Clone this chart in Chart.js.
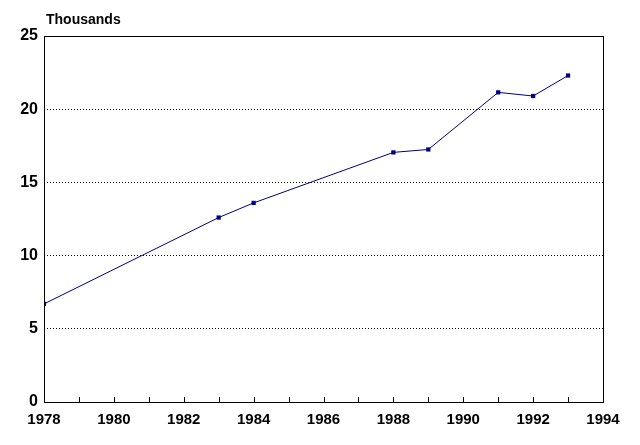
<!DOCTYPE html>
<html>
<head>
<meta charset="utf-8">
<script src="https://cdn.jsdelivr.net/npm/chart.js@4.4.1/dist/chart.umd.min.js"></script>
<style>
  html, body { margin: 0; padding: 0; background: #fff; }
  #wrap { width: 640px; height: 445px; position: relative; }
</style>
</head>
<body>
<div id="wrap"><canvas id="c"></canvas></div>
<script>
const years = [1978, 1983, 1984, 1988, 1989, 1991, 1992, 1993];
const values = [6.7, 12.6, 13.6, 17.05, 17.25, 21.15, 20.9, 22.3];
const unitLabel = 'Thousands';
const xMin = 1978, xMax = 1994;
const yMin = 0, yMax = 25;

const framePlugin = {
  id: 'frame',
  afterDraw(chart) {
    const { ctx, chartArea: a, scales } = chart;
    ctx.save();
    ctx.strokeStyle = '#000';
    ctx.lineWidth = 1;
    ctx.strokeRect(Math.round(a.left) + 0.5, Math.round(a.top) + 0.5,
      Math.round(a.right - a.left), Math.round(a.bottom - a.top));
    // inside tick marks on x axis
    const xs = scales.x;
    ctx.beginPath();
    for (let yr = xMin + 1; yr < xMax; yr++) {
      const px = Math.round(xs.getPixelForValue(yr)) + 0.5;
      ctx.moveTo(px, a.bottom);
      ctx.lineTo(px, a.bottom - 5);
    }
    ctx.stroke();
    ctx.fillStyle = '#000';
    ctx.font = 'bold 14px "Liberation Sans", Arial, sans-serif';
    ctx.textBaseline = 'middle';
    ctx.textAlign = 'left';
    ctx.fillText(unitLabel, a.left + 2, a.top - 16);
    ctx.restore();
  }
};

new Chart(document.getElementById('c'), {
  type: 'line',
  data: {
    datasets: [{
      data: years.map((y, i) => ({ x: y, y: values[i] })),
      borderColor: '#000080',
      backgroundColor: '#000080',
      borderWidth: 1,
      pointStyle: 'rect',
      pointRadius: 3,
      pointBorderWidth: 0,
      tension: 0,
      fill: false
    }]
  },
  options: {
    responsive: true,
    maintainAspectRatio: false,
    animation: false,
    devicePixelRatio: 1,
    layout: { padding: { top: 36, right: 37, left: 0, bottom: 0 } },
    plugins: { legend: { display: false }, tooltip: { enabled: false }, title: { display: false } },
    scales: {
      x: {
        type: 'linear',
        min: xMin, max: xMax,
        afterFit(s) { s.height = 43; },
        border: { display: false },
        grid: { display: false, drawTicks: false },
        ticks: {
          stepSize: 2,
          color: '#000',
          padding: 9,
          maxRotation: 0,
          autoSkip: false,
          font: { family: '"Liberation Sans", Arial, sans-serif', size: 15, weight: 'bold' },
          callback: v => String(v)
        }
      },
      y: {
        min: yMin, max: yMax,
        afterFit(s) { s.width = 44; },
        border: { display: false, dash: [1, 2] },
        grid: {
          drawTicks: false,
          color: ctx => (ctx.tick && (ctx.tick.value === yMin || ctx.tick.value === yMax)) ? 'rgba(0,0,0,0)' : '#000',
          lineWidth: 1
        },
        ticks: {
          stepSize: 5,
          color: '#000',
          padding: 6,
          font: { family: '"Liberation Sans", Arial, sans-serif', size: 16, weight: 'bold' }
        }
      }
    }
  },
  plugins: [framePlugin]
});
</script>
</body>
</html>
